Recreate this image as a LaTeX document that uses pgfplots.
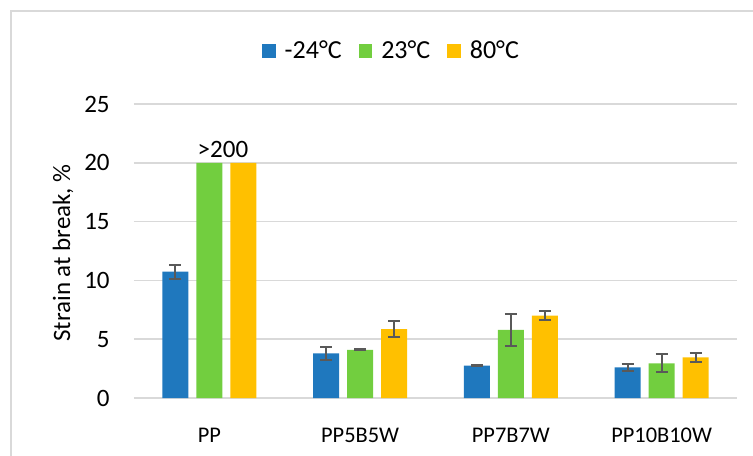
\documentclass[border=0pt]{standalone}
\usepackage{pgfplots}
\usepackage{pgfplotstable}
\pgfplotsset{compat=1.18}
\usepackage{fontspec}
\setmainfont{Carlito}
\definecolor{cblue}{HTML}{1F78BE}
\definecolor{cgreen}{HTML}{72CE3F}
\definecolor{corange}{HTML}{FFC000}
\definecolor{cgrid}{HTML}{D9D9D9}
\definecolor{cerr}{HTML}{595959}

% x = category, xe = position of the error bar (bar centre), y = value, e = error
\pgfplotstableread{
x xe y e
0 -0.2255 10.75 0.6
1 0.7745 3.8 0.55
2 1.7745 2.75 0.05
3 2.7745 2.6 0.29
}\tblue
\pgfplotstableread{
x xe y e
0 0 20 0
1 1 4.1 0.05
2 2 5.8 1.35
3 3 2.95 0.78
}\tgreen
\pgfplotstableread{
x xe y e
0 0.2255 20 0
1 1.2255 5.85 0.68
2 2.2255 7.0 0.38
3 3.2255 3.45 0.38
}\torange

\pgfplotsset{errb/.style={
  draw=none, mark=none,
  error bars/y dir=both, error bars/y explicit,
  error bars/error bar style={draw=cerr, line width=1bp},
  error bars/error mark options={rotate=90,mark size=3bp,line width=1bp,draw=cerr}}}

\begin{document}
\begin{tikzpicture}
\useasboundingbox (-67bp,-29bp) rectangle (309.5bp,199bp);
\draw[cgrid, line width=0.75bp] (-61.5bp,-40bp) -- (-61.5bp,193.5bp) -- (320bp,193.5bp);
\begin{axis}[
  scale only axis,
  width=301.5bp, height=147bp,
  at={(0,0)}, anchor=south west,
  xmin=-0.5, xmax=3.5,
  ymin=0, ymax=25,
  ytick={0,5,10,15,20,25},
  xtick={0,1,2,3},
  xticklabels={PP,PP5B5W,PP7B7W,PP10B10W},
  axis lines*=left,
  axis line style={draw=none},
  major tick length=0pt,
  ymajorgrids,
  grid style={cgrid, line width=0.75bp},
  /pgf/number format/assume math mode=true,
  yticklabel style={inner sep=0pt, anchor=east, xshift=-12bp, font=\fontsize{12.5bp}{14bp}\selectfont},
  xticklabel style={inner sep=0pt, anchor=north, yshift=-15bp, font=\fontsize{11.2bp}{13bp}\selectfont},
  ylabel={Strain at break, \%},
  ylabel style={font=\fontsize{12.5bp}{14bp}\selectfont, at={(axis description cs:-0.1177,0.493)}, anchor=center},
  legend style={draw=none, fill=none, legend columns=-1,
    at={(axis description cs:0.4287,1.180)}, anchor=center,
    font=\fontsize{13bp}{15bp}\selectfont,
    /tikz/every odd column/.append style={column sep=2.5bp},
    /tikz/every even column/.append style={column sep=6.5bp}},
  legend image code/.code={\fill[#1] (0bp,-3.4bp) rectangle (6.8bp,3.4bp);},
  clip=false,
]
\addplot[ybar, bar width=13bp, bar shift=-17bp, fill=cblue, draw=none] table[x=x,y=y]{\tblue};
\addplot[ybar, bar width=13bp, bar shift=0bp, fill=cgreen, draw=none] table[x=x,y=y]{\tgreen};
\addplot[ybar, bar width=13bp, bar shift=17bp, fill=corange, draw=none] table[x=x,y=y]{\torange};
\addplot[errb, forget plot] table[x=xe,y=y,y error=e]{\tblue};
\addplot[errb, forget plot, skip coords between index={0}{1}] table[x=xe,y=y,y error=e]{\tgreen};
\addplot[errb, forget plot, skip coords between index={0}{1}] table[x=xe,y=y,y error=e]{\torange};
\legend{-24°C,23°C,80°C}
\node[anchor=base, inner sep=0pt, font=\fontsize{12.5bp}{14bp}\selectfont] at (axis cs:0.09,20) [yshift=2.9bp] {>200};
\end{axis}
\end{tikzpicture}
\end{document}
